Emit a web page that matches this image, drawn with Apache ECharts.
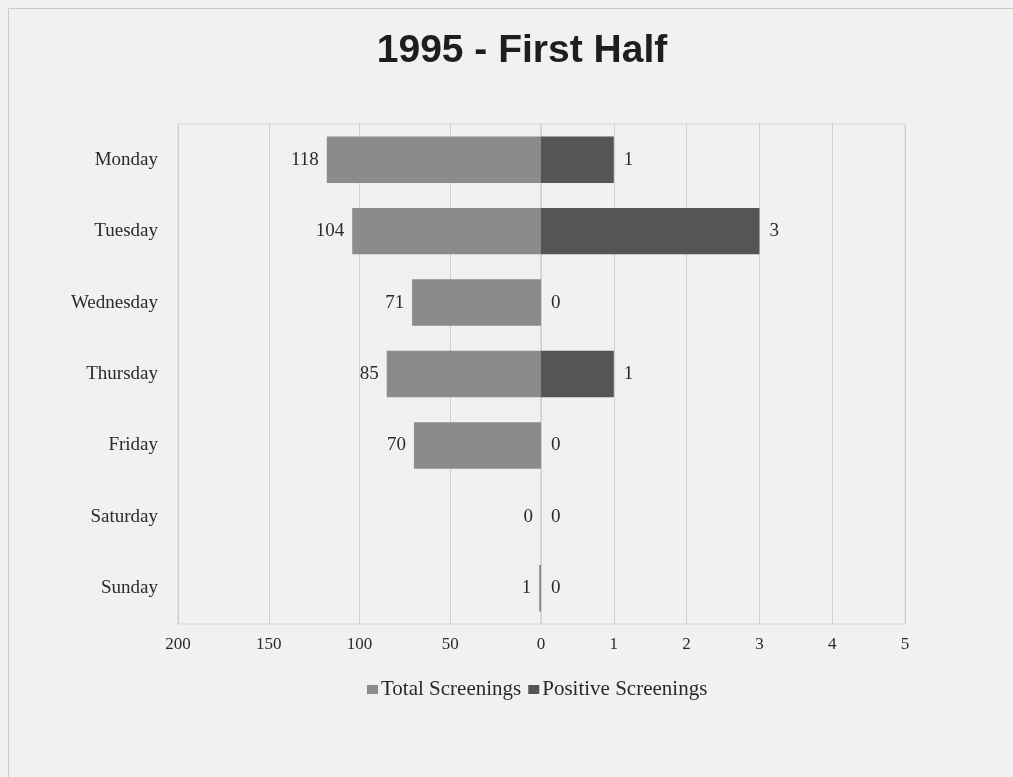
<!DOCTYPE html>
<html>
<head>
<meta charset="utf-8">
<script src="https://cdn.jsdelivr.net/npm/echarts@6/dist/echarts.min.js"></script>
<style>
  html, body { margin: 0; padding: 0; background: #f1f1ef; }
  #main { width: 1013px; height: 777px; }
</style>
</head>
<body>
<div id="main"></div>
<script>
// data
var days = ['Monday', 'Tuesday', 'Wednesday', 'Thursday', 'Friday', 'Saturday', 'Sunday'];
var totalScreenings = [118, 104, 71, 85, 70, 0, 1];
var positiveScreenings = [1, 3, 0, 1, 0, 0, 0];

var serif = '"Liberation Serif", "DejaVu Serif", serif';
var myChart = echarts.init(document.getElementById('main'));

var option = {
    backgroundColor: '#f1f1ef',
    animation: false,
    title: {
        text: '1995 - First Half',
        left: 517,
        textAlign: 'center',
        top: 27,
        textStyle: {
            fontFamily: '"Liberation Sans", Arial, sans-serif',
            fontSize: 39,
            fontWeight: 'bold',
            color: '#1e1e1e'
        }
    },
    graphic: [{
        type: 'rect',
        shape: { x: 8.5, y: 8.5, width: 1020, height: 800 },
        style: { fill: 'none', stroke: '#c9c9c6', lineWidth: 1 }
    }],
    legend: {
        data: ['Total Screenings', 'Positive Screenings'],
        left: 362,
        top: 674,
        itemWidth: 11,
        itemHeight: 9,
        itemGap: 7,
        icon: 'rect',
        textStyle: { fontFamily: serif, fontSize: 21, color: '#2a2a2a', padding: [0, 0, 0, -2] }
    },
    grid: [
        { left: 178, width: 363, top: 124, height: 500, show: true, borderColor: '#d4d4d0', borderWidth: 1, backgroundColor: 'transparent' },
        { left: 541, width: 364, top: 124, height: 500, show: true, borderColor: '#d4d4d0', borderWidth: 1, backgroundColor: 'transparent' }
    ],
    xAxis: [{
        type: 'value',
        gridIndex: 0,
        inverse: true,
        min: 0, max: 200, interval: 50,
        axisLine: { show: false },
        axisTick: { show: false },
        splitLine: { lineStyle: { color: '#cfcfcb' } },
        axisLabel: { fontFamily: serif, fontSize: 17, color: '#2a2a2a', margin: 12 }
    }, {
        type: 'value',
        gridIndex: 1,
        min: 0, max: 5, interval: 1,
        axisLine: { show: false },
        axisTick: { show: false },
        splitLine: { lineStyle: { color: '#cfcfcb' } },
        axisLabel: {
            fontFamily: serif, fontSize: 17, color: '#2a2a2a', margin: 12,
            formatter: function (v) { return v === 0 ? '' : v; }
        }
    }],
    yAxis: [{
        type: 'category',
        gridIndex: 0,
        data: days,
        inverse: true,
        axisLine: { show: false },
        axisTick: { show: false },
        axisLabel: { fontFamily: serif, fontSize: 19, color: '#2a2a2a', margin: 20 }
    }, {
        type: 'category',
        gridIndex: 1,
        data: days,
        inverse: true,
        axisLine: { show: false },
        axisTick: { show: false },
        axisLabel: { show: false }
    }],
    series: [{
        name: 'Total Screenings',
        type: 'bar',
        xAxisIndex: 0,
        yAxisIndex: 0,
        data: totalScreenings,
        barCategoryGap: '35%',
        itemStyle: { color: '#8b8b89' },
        label: {
            show: true,
            position: 'left',
            distance: 8,
            fontFamily: serif, fontSize: 19, color: '#2a2a2a'
        }
    }, {
        name: 'Positive Screenings',
        type: 'bar',
        xAxisIndex: 1,
        yAxisIndex: 1,
        data: positiveScreenings,
        barCategoryGap: '35%',
        itemStyle: { color: '#555554' },
        label: {
            show: true,
            position: 'right',
            distance: 10,
            fontFamily: serif, fontSize: 19, color: '#2a2a2a'
        }
    }]
};

myChart.setOption(option);
</script>
</body>
</html>
